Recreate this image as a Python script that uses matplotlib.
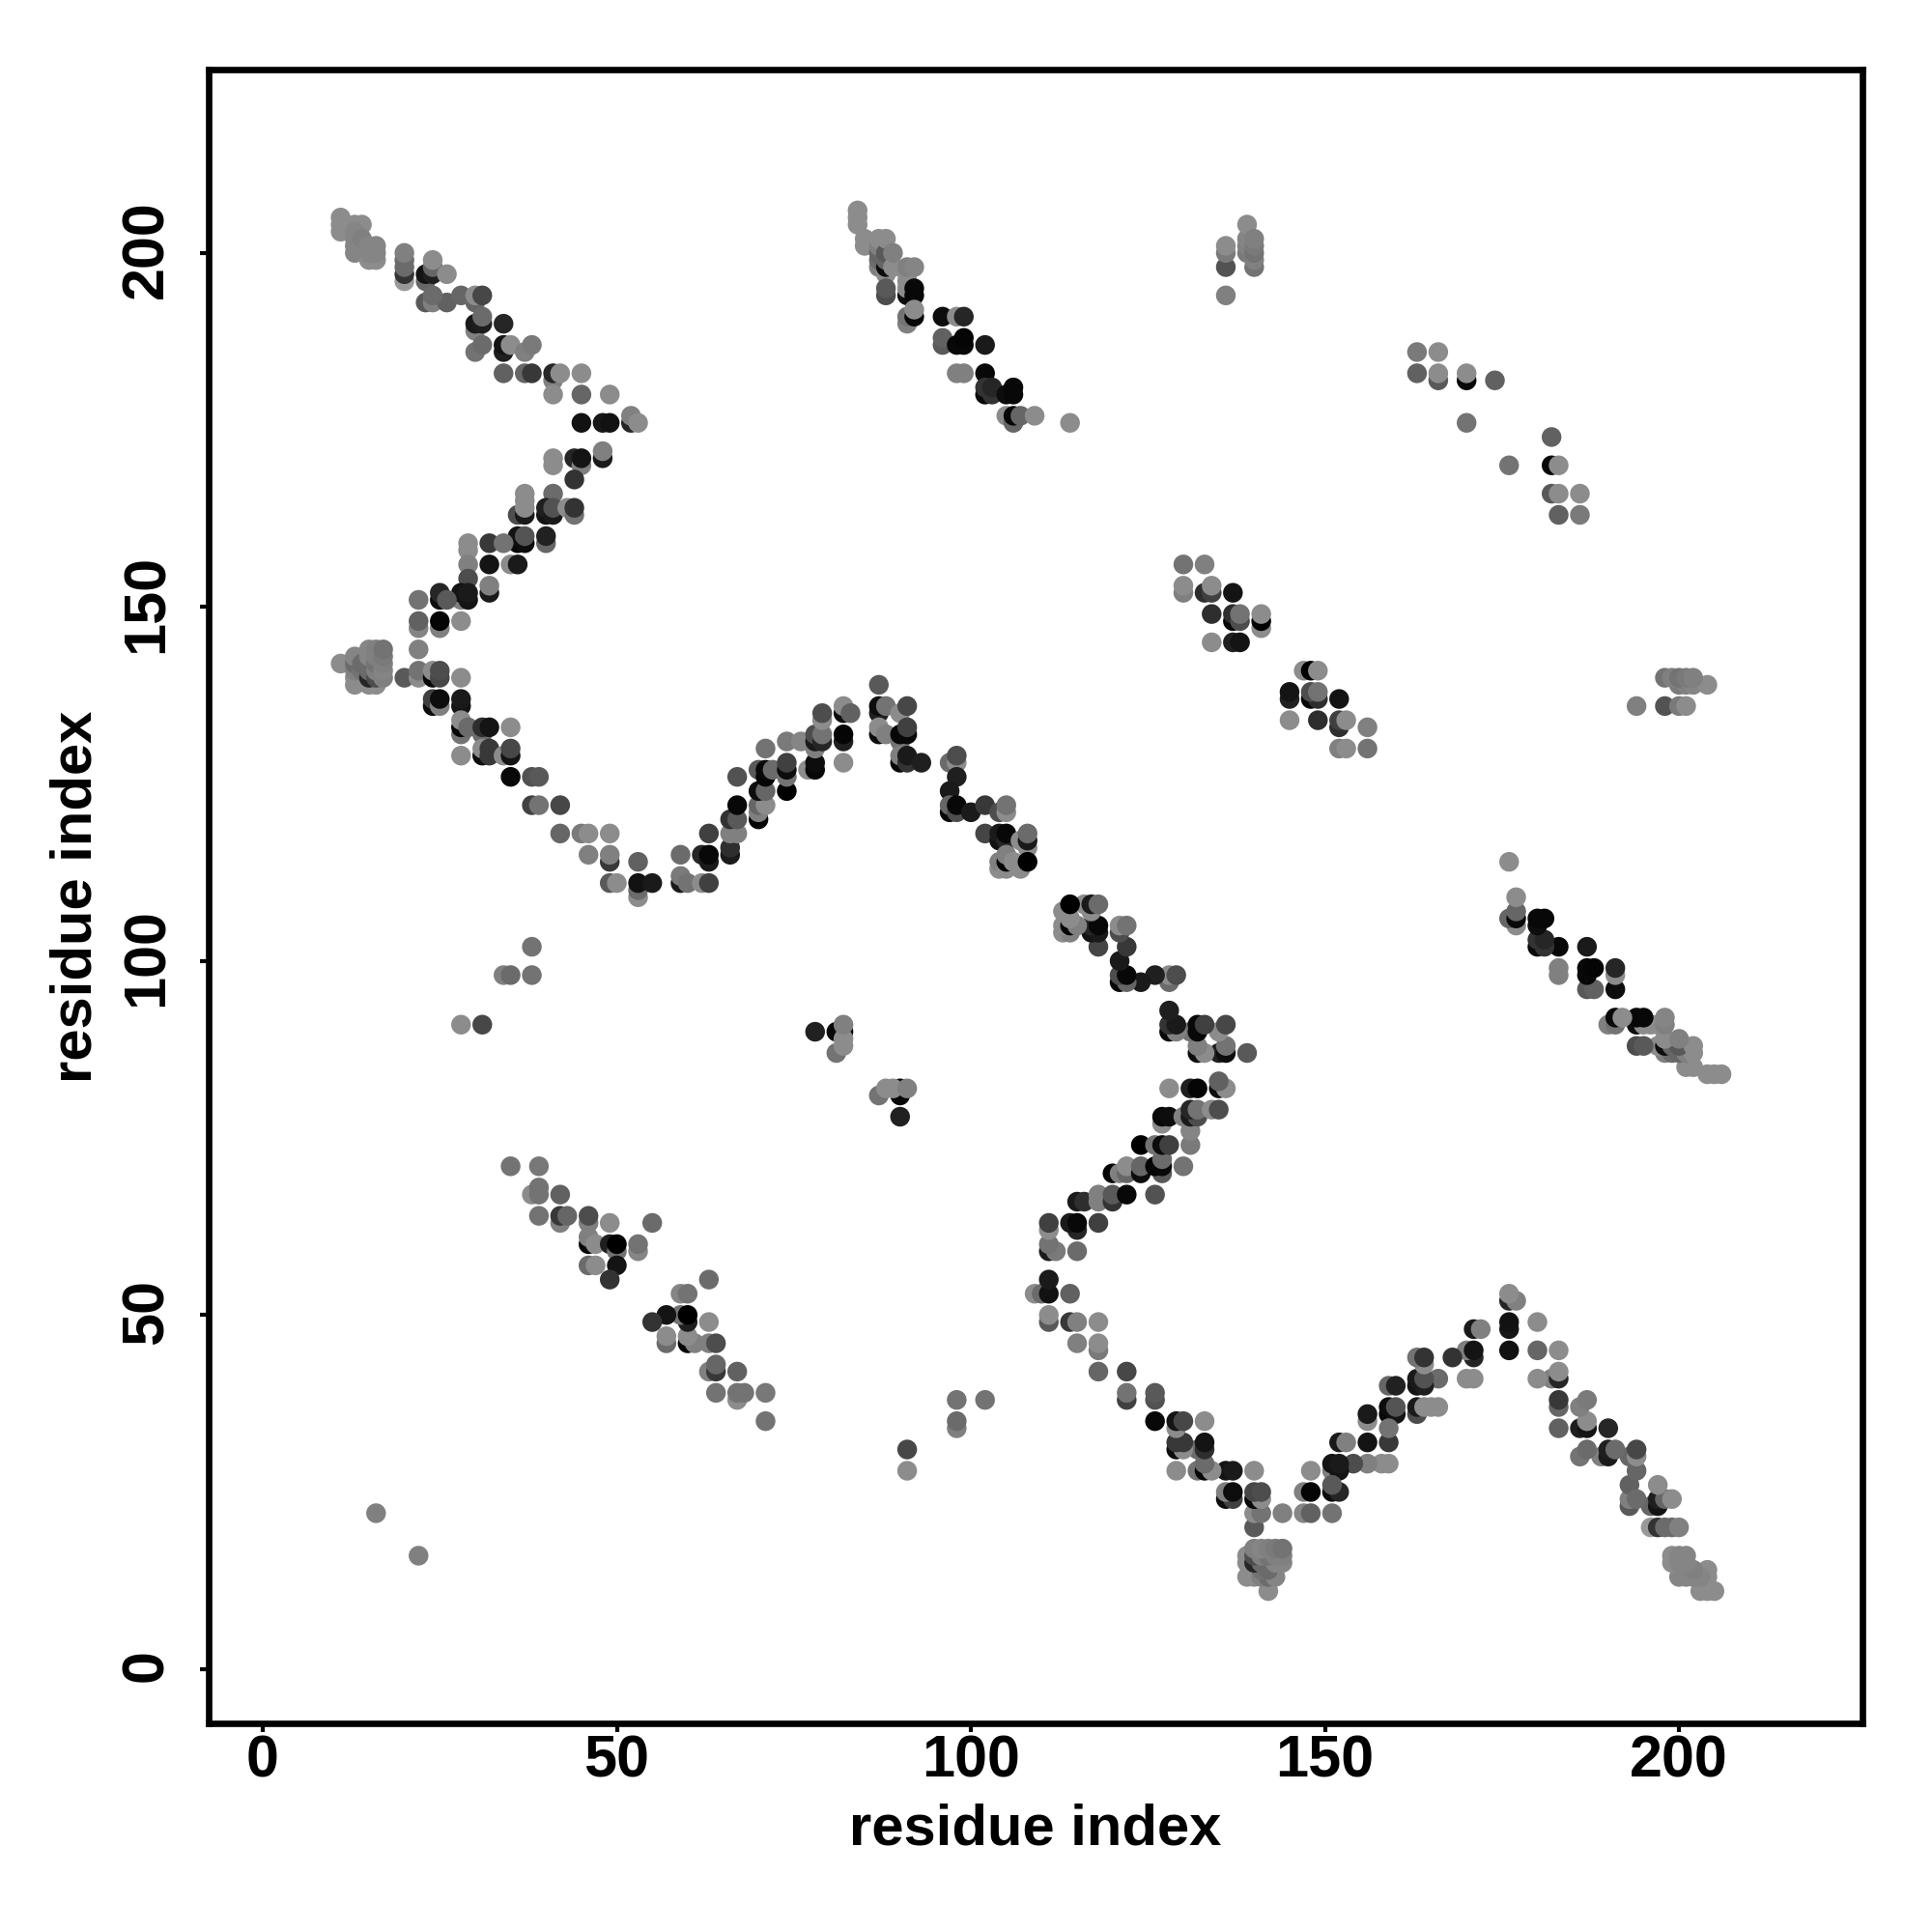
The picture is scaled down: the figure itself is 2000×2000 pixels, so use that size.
import matplotlib
matplotlib.use("Agg")
import matplotlib.pyplot as plt
from matplotlib.transforms import ScaledTranslation

# contact map, only i < j is listed, each contact is also drawn mirrored
# every entry is (i, j, gray level)
arm_upper = [
    (11,205,.55),(11,204,.55),(11,203,.55),(13,204,.55),(14,204,.55),(13,203,.52),(13,202,.52),(13,201,.52),
    (13,200,.52),(14,202,.5),(15,199,.55),(16,199,.55),(15,200,.52),(16,200,.52),(15,201,.52),(16,201,.52),
    (20,196,.6),(20,197,.2),(20,198,.42),(20,199,.42),(20,200,.5),
    (23,196,.4),(23,197,.08),(24,197,.12),(24,198,.4),(24,199,.55),(26,197,.55),
    (23,193,.35),(24,193,.5),(26,193,.38),(24,194,.42),(28,194,.4),(30,193,.4),(30,194,.55),(31,194,.28),
    (30,189,.5),(30,190,.1),(31,190,.12),(31,191,.42),(34,190,.15),
    (30,186,.45),(31,187,.42),(34,186,.12),(34,187,.08),(35,187,.55),(37,186,.5),(38,187,.48),
    (34,183,.38),(37,183,.4),(38,183,.22),(41,182,.5),(41,183,.15),(42,183,.55),(45,183,.55),
    (41,180,.55),(45,180,.4),(49,180,.55),
    (45,176,.07),(48,176,.09),(49,176,.07),(52,176,.15),(52,177,.5),(53,176,.55),
    (41,170,.55),(41,171,.55),(44,171,.15),(45,170,.5),(45,171,.08),(48,171,.1),(48,172,.5),(44,168,.2),
    (37,166,.55),(41,166,.42),(36,163,.3),(37,163,.1),(37,164,.55),(37,165,.55),(40,163,.08),(40,164,.12),
    (41,163,.1),(41,164,.32),(43,164,.55),(44,163,.45),(44,164,.2),
    (36,159,.03),(36,160,.08),(37,159,.05),(37,160,.33),(40,159,.4),(40,160,.13),
    (29,158,.55),(29,159,.55),(32,159,.22),(34,159,.45),
    (29,156,.5),(32,156,.08),(35,156,.55),(36,156,.1),
    (29,154,.3),(28,151,.5),(28,152,.08),(29,151,.08),(29,152,.1),(32,152,.1),(32,153,.5),
    (25,151,.05),(25,152,.15),(26,151,.35),(22,151,.45),
    (22,147,.52),(22,148,.38),(25,147,.5),(25,148,.02),(28,148,.55),(22,144,.5),
]

arm_cluster = [
    (11,142,.55),(13,139,.55),(13,140,.55),(13,141,.5),(13,142,.42),(13,143,.52),(14,141,.45),(14,142,.42),
    (15,139,.55),(16,139,.55),(15,140,.15),(15,141,.42),(15,142,.42),(15,143,.52),(15,144,.52),
    (16,140,.3),(16,141,.5),(16,142,.45),(16,143,.5),(16,144,.5),
    (17,140,.5),(17,141,.52),(17,142,.5),(17,143,.48),(17,144,.45),
]

arm_middle = [
    (20,140,.35),(22,140,.55),(22,141,.45),(24,140,.03),(24,141,.55),(25,140,.28),(25,141,.3),(28,140,.55),
    (24,136,.05),(24,137,.25),(25,136,.5),(25,137,.05),(28,136,.08),(28,137,.1),
    (28,132,.45),(28,133,.02),(28,134,.55),(29,133,.42),(31,132,.42),(31,133,.18),(32,133,.08),(35,133,.55),
    (28,129,.55),(31,129,.05),(31,130,.55),(32,129,.22),(32,130,.22),(34,129,.55),(35,129,.08),(35,130,.28),
    (35,126,.03),(38,126,.32),(39,126,.35),
    (38,122,.25),(39,122,.45),(42,122,.28),
    (42,118,.4),(45,118,.48),(46,118,.55),(49,118,.55),
    (46,115,.5),(49,114,.22),(49,115,.5),(53,114,.38),
    (49,111,.35),(50,111,.55),(53,109,.55),(53,110,.42),(53,111,.07),(55,111,.1),
    (59,115,.42),(59,111,.1),(59,112,.48),(60,111,.45),(62,111,.55),(63,111,.25),
    (62,115,.15),(63,114,.1),(63,115,.03),(63,118,.25),(66,115,.1),(66,116,.18),(66,118,.5),(67,118,.5),
    (66,120,.2),(67,120,.35),(67,122,.03),(67,126,.32),
    (70,120,.02),(70,121,.5),(70,122,.4),(71,122,.55),(70,124,.05),(71,124,.4),
    (70,127,.35),(71,126,.02),(71,127,.03),(72,127,.42),(71,130,.45),
    (74,124,.0),(74,126,.45),(74,127,.05),(74,128,.25),(74,131,.48),(76,131,.52),
    (77,127,.55),(78,127,.03),(78,128,.05),(78,130,.5),(78,131,.1),(78,132,.3),(79,131,.15),(79,132,.45),
    (79,134,.55),(79,135,.3),
    (82,128,.55),(82,131,.12),(82,132,.02),(82,135,.05),(82,136,.55),(83,135,.38),
    (87,139,.35),(87,135,.12),(87,136,.05),(88,136,.45),(87,132,.05),(87,133,.55),(88,132,.5),
    (90,135,.55),(91,136,.28),(90,131,.45),(90,132,.03),(91,132,.03),(91,133,.25),
    (90,128,.03),(90,129,.5),(91,128,.2),(91,129,.1),(93,128,.12),
    (97,128,.42),(98,128,.55),(98,129,.3),(98,126,.12),
    (97,124,.1),(97,121,.03),(97,122,.4),(98,121,.3),(98,122,.03),(100,121,.1),(102,122,.22),
    (104,121,.3),(105,121,.55),(105,122,.45),
    (102,118,.27),(104,117,.08),(104,118,.1),(105,117,.15),(105,118,.03),(107,117,.55),(108,116,.55),
    (108,117,.1),(108,118,.42),
    (104,113,.55),(104,114,.5),(105,113,.55),(105,114,.02),(105,115,.5),(106,114,.55),(107,113,.55),(108,114,.0),
]

arm_top = [
    (84,204,.55),(84,205,.55),(84,206,.55),(85,201,.55),(85,202,.55),
    (87,198,.5),(87,199,.42),(87,200,.4),(87,201,.5),(87,202,.55),(88,197,.55),(88,198,.05),(88,199,.4),
    (88,200,.35),(88,202,.55),(89,198,.55),(89,200,.5),
    (88,194,.3),(88,195,.35),
    (91,194,.05),(91,195,.55),(91,196,.55),(91,197,.55),(91,198,.5),(92,198,.52),(92,194,.03),(92,195,.03),
    (91,190,.5),(91,191,.45),(92,191,.03),(92,192,.55),
    (96,191,.05),(98,191,.55),(99,191,.15),
    (96,187,.35),(96,188,.38),(98,187,.03),(99,187,.03),(99,188,.02),(102,187,.1),
    (98,183,.5),(99,183,.5),(102,183,.03),(102,180,.03),(102,181,.2),(103,180,.2),(103,181,.15),
    (105,180,.05),(106,180,.03),(106,181,.03),
    (105,177,.55),(106,176,.4),(106,177,.03),(107,177,.4),(109,177,.55),(114,176,.55),
]

patch_far = [
    (136,194,.5),(136,198,.32),(136,200,.48),(136,201,.55),(139,200,.48),(139,201,.5),(139,202,.52),(139,204,.55),
    (140,198,.45),(140,199,.5),(140,200,.45),(140,201,.48),(140,202,.5),
    (163,186,.48),(166,186,.55),(163,183,.38),(166,182,.35),(166,183,.55),(170,182,.03),(170,183,.55),
    (174,182,.38),(170,176,.45),
]

patch_center = [
    (130,152,.5),(130,153,.55),(130,156,.45),(133,156,.5),(133,152,.18),(134,152,.25),(134,153,.55),(137,152,.08),
    (134,149,.18),(137,148,.03),(137,149,.18),(138,148,.3),(138,149,.45),(141,147,.55),(141,148,.0),(141,149,.55),
    (134,145,.55),(137,145,.13),(138,145,.08),
]

patch_small = [
    (16,22,.5),(28,91,.55),(31,91,.28),(34,98,.5),(35,98,.42),(38,98,.45),(38,102,.45),
    (78,90,.13),(81,87,.45),(81,90,.03),(82,90,.03),(82,88,.55),(82,89,.55),(82,91,.5),
]

patch_low = [
    (35,71,.45),(39,71,.47),(38,67,.55),(39,67,.45),(39,68,.45),(42,67,.38),(39,64,.45),(42,63,.5),(42,64,.22),
    (43,64,.4),(46,63,.5),(46,64,.3),(49,63,.55),(55,63,.42),(46,60,.02),(46,61,.5),(47,60,.55),(49,60,.12),
    (50,59,.45),(50,60,.0),(53,59,.52),(53,60,.45),(46,57,.42),(47,57,.55),(50,57,.08),(49,55,.2),
]

ticks = [0, 50, 100, 150, 200]

plt.rcParams['font.family'] = ['Liberation Sans', 'DejaVu Sans']
plt.rcParams['font.weight'] = 'bold'

fig = plt.figure(figsize=(10, 10), dpi=200)
ax = fig.add_axes([216/2000, 1 - 1784/2000, 1712/2000, 1712/2000])

contacts = arm_upper + arm_cluster + arm_middle + arm_top + patch_far + patch_center + patch_small + patch_low
i = [c[0] for c in contacts]
j = [c[1] for c in contacts]
gray = [str(c[2]) for c in contacts]

ax.scatter(j, i, s=54, c=gray, linewidths=0)
ax.scatter(i, j, s=54, c=gray, linewidths=0)

ax.set_xlim(-7.64, 225.9)
ax.set_ylim(-7.68, 225.9)
ax.set_xticks(ticks)
ax.set_yticks(ticks)
ax.set_yticklabels(ticks, rotation=90, va='center')
ax.tick_params(axis='both', labelsize=22, width=1.5, length=3.2)
ax.tick_params(axis='x', pad=1)
ax.tick_params(axis='y', pad=9.3)
# the rotated labels sit a little high in the original
for lab in ax.get_yticklabels():
    lab.set_transform(lab.get_transform() + ScaledTranslation(0, 1.2/72, fig.dpi_scale_trans))
for s in ax.spines.values():
    s.set_linewidth(2.4)

ax.set_xlabel('residue index', fontsize=21.5, fontweight='bold', labelpad=5)
ax.set_ylabel('residue index', fontsize=21.5, fontweight='bold', labelpad=6.3)

fig.savefig('out.png', dpi=200)
